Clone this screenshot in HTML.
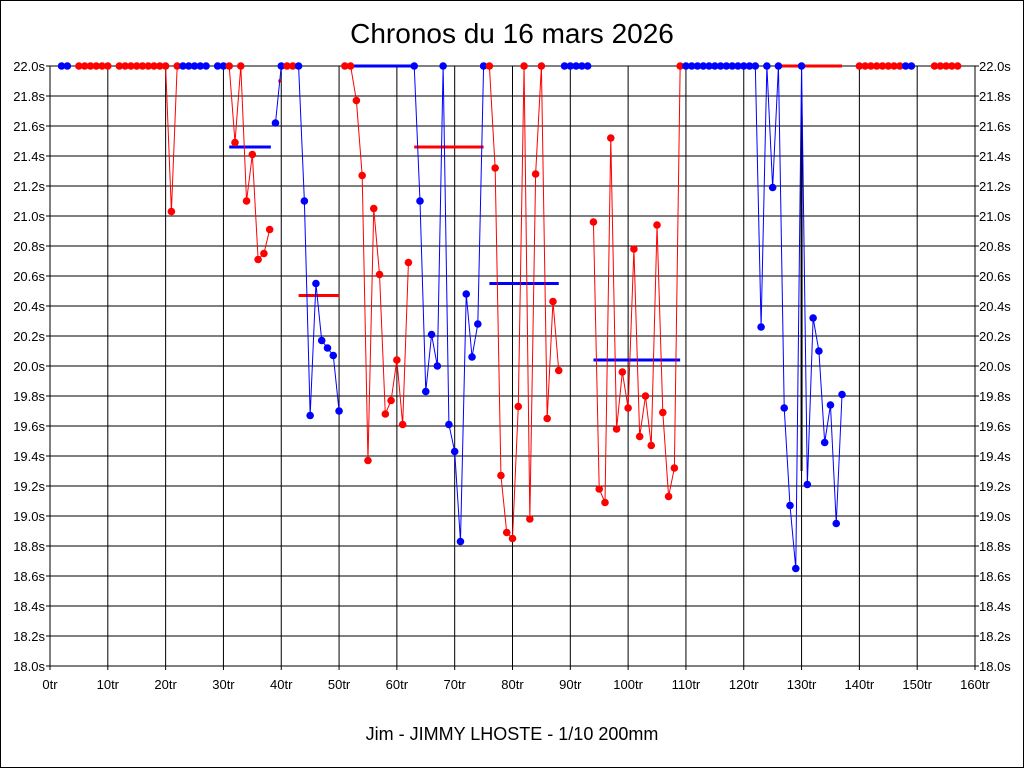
<!DOCTYPE html>
<html><head><meta charset="utf-8"><style>
body{margin:0;background:#fff}
svg{display:block;font-family:"Liberation Sans",sans-serif}
</style></head><body>
<svg id="chart" width="1024" height="768">
<rect x="0.5" y="0.5" width="1023" height="767" fill="#fff" stroke="#000"/>
<text x="512" y="43" font-size="28" text-anchor="middle">Chronos du 16 mars 2026</text>
<text x="512" y="740" font-size="18" text-anchor="middle">Jim - JIMMY LHOSTE - 1/10 200mm</text>
<g id="grid"></g><g id="means"></g><g id="series"></g><g id="marks"></g>
</svg>
<script>
const lapNums=[2,3, 5,6,7,8,9,10, 12,13,14,15,16,17,18,19,20,21,22, 23,24,25,26,27, 29,30, 31,32,33,34,35,36,37,38, 39,40, 41,42, 43,44,45,46,47,48,49,50, 51,52,53,54,55,56,57,58,59,60,61,62, 63,64,65,66,67,68,69,70,71,72,73,74,75, 76,77,78,79,80,81,82,83,84,85,86,87,88, 89,90,91,92,93, 94,95,96,97,98,99,100,101,102,103,104,105,106,107,108,109, 110,111,112,113,114,115,116,117,118,119,120,121, 122,123,124,125,126,127,128,129,130,131,132,133,134,135,136,137, 140,141,142,143,144,145,146,147, 148,149, 153,154,155,156,157];
const lapTimes=[22,22, 22,22,22,22,22,22, 22,22,22,22,22,22,22,22,22,21.03,22, 22,22,22,22,22, 22,22, 22,21.49,22,21.10,21.41,20.71,20.75,20.91, 21.62,22, 22,22, 22,21.10,19.67,20.55,20.17,20.12,20.07,19.70, 22,22,21.77,21.27,19.37,21.05,20.61,19.68,19.77,20.04,19.61,20.69, 22,21.10,19.83,20.21,20.00,22,19.61,19.43,18.83,20.48,20.06,20.28,22, 22,21.32,19.27,18.89,18.85,19.73,22,18.98,21.28,22,19.65,20.43,19.97, 22,22,22,22,22, 20.96,19.18,19.09,21.52,19.58,19.96,19.72,20.78,19.53,19.80,19.47,20.94,19.69,19.13,19.32,22, 22,22,22,22,22,22,22,22,22,22,22,22, 22,20.26,22,21.19,22,19.72,19.07,18.65,22,19.21,20.32,20.10,19.49,19.74,18.95,19.81, 22,22,22,22,22,22,22,22, 22,22, 22,22,22,22,22];
const lapRun=[0,0, 1,1,1,1,1,1, 2,2,2,2,2,2,2,2,2,2,2, 3,3,3,3,3, 4,4, 5,5,5,5,5,5,5,5, 6,6, 7,7, 8,8,8,8,8,8,8,8, 9,9,9,9,9,9,9,9,9,9,9,9, 10,10,10,10,10,10,10,10,10,10,10,10,10, 11,11,11,11,11,11,11,11,11,11,11,11,11, 12,12,12,12,12, 13,13,13,13,13,13,13,13,13,13,13,13,13,13,13,13, 14,14,14,14,14,14,14,14,14,14,14,14, 15,15,15,15,15,15,15,15,15,15,15,15,15,15,15,15, 16,16,16,16,16,16,16,16, 17,17, 18,18,18,18,18];
const runColors=["#0000ff","#ff0000","#ff0000","#0000ff","#0000ff","#ff0000","#0000ff","#ff0000","#0000ff","#ff0000","#0000ff","#ff0000","#0000ff","#ff0000","#0000ff","#0000ff","#ff0000","#0000ff","#ff0000"];
const meanStart=[31,39.5,43,52,63,76,94,126.3];
const meanEnd=[38.2,40,50,62.5,75,88,109,137];
const meanValues=[21.46,21.9,20.47,22.0,21.46,20.55,20.04,22.0];
const meanColors=["#0000ff","#ff0000","#ff0000","#0000ff","#ff0000","#0000ff","#0000ff","#ff0000"];
const xTicks=[0,10,20,30,40,50,60,70,80,90,100,110,120,130,140,150,160];
const yTicks=[18.0,18.2,18.4,18.6,18.8,19.0,19.2,19.4,19.6,19.8,20.0,20.2,20.4,20.6,20.8,21.0,21.2,21.4,21.6,21.8,22.0];
const X0=50,X1=975,Y0=666,Y1=66;
const xs=v=>X0+(v-0)/(160-0)*(X1-X0);
const ys=v=>Y0-(v-18)/(22-18)*(Y0-Y1);
const NS="http://www.w3.org/2000/svg";
function mk(tag,attrs,parent){const e=document.createElementNS(NS,tag);for(const k in attrs)e.setAttribute(k,attrs[k]);document.getElementById(parent).appendChild(e);return e;}
xTicks.forEach(t=>{
  const l=mk('line',{x1:xs(t),x2:xs(t),y1:Y1,y2:Y0+4,stroke:'#000','stroke-width':1},'grid');
  
  
  const tx=mk('text',{x:xs(t),y:Y0+23,'font-size':13,'text-anchor':'middle'},'grid');tx.textContent=t+'tr';
  
  
});
yTicks.forEach(t=>{
  const l=mk('line',{x1:X0-4,x2:X1+4,y1:ys(t),y2:ys(t),stroke:'#000','stroke-width':1},'grid');
  
  
  const a=mk('text',{x:X0-5,y:ys(t)+5,'font-size':13,'text-anchor':'end'},'grid');a.textContent=t.toFixed(1)+'s';
  
  
  const b=mk('text',{x:X1+4,y:ys(t)+5,'font-size':13,'text-anchor':'start'},'grid');b.textContent=t.toFixed(1)+'s';
  
  
});
meanValues.forEach((v,i)=>{
  const l=mk('line',{x1:xs(meanStart[i]),x2:xs(meanEnd[i]),y1:ys(v),y2:ys(v),stroke:meanColors[i],'stroke-width':3},'means');
  
  
});
const bl=mk('line',{x1:xs(130),x2:xs(130),y1:ys(21.66),y2:ys(19.3),stroke:'#000','stroke-width':2},'means');


runColors.forEach((c,r)=>{
  const pts=[];lapNums.forEach((n,i)=>{if(lapRun[i]===r)pts.push(xs(n)+','+ys(lapTimes[i]));});
  if(pts.length>1){const p=mk('polyline',{points:pts.join(' '),fill:'none',stroke:c,'stroke-width':1},'series');
  
  }
});
lapNums.forEach((n,i)=>{
  const c=mk('circle',{cx:xs(n),cy:ys(lapTimes[i]),r:3.8,fill:runColors[lapRun[i]]},'marks');
  
  
});
</script>
</body></html>
